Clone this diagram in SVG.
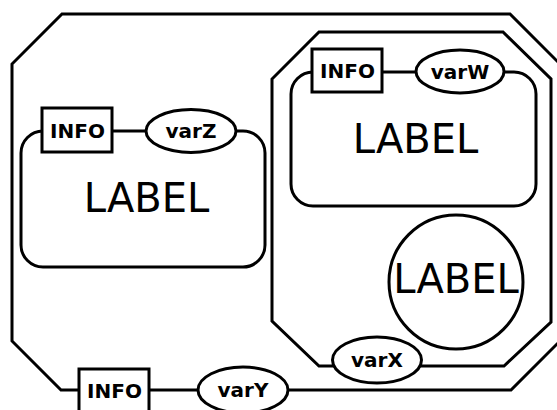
<svg xmlns="http://www.w3.org/2000/svg" width="557" height="410" viewBox="0 0 557 410">
<style>
.s{fill:#fff;stroke:#000;stroke-width:3}
.big{font-family:"DejaVu Sans",sans-serif;font-size:40px;text-anchor:middle;fill:#000}
.sm{font-family:"DejaVu Sans",sans-serif;font-size:20px;font-weight:bold;text-anchor:middle;fill:#000}
</style>
<rect width="557" height="410" fill="#fff"/>
<g id="outer">
<polygon class="s" points="62,14 510,14 560,64 560,341 511,390 61,390 12,341 12,64"/>
</g>
<g id="compZ">
<rect class="s" x="21" y="131" width="244" height="136" rx="22"/>
<text class="big" x="146.5" y="212">LABEL</text>
</g>
<g id="infoZ">
<rect class="s" x="42" y="108" width="70" height="44"/>
<text class="sm" x="77.5" y="137.5">INFO</text>
</g>
<g id="varZ">
<ellipse class="s" cx="191" cy="131" rx="45" ry="21.5"/>
<text class="sm" x="191" y="138">varZ</text>
</g>
<g id="inner">
<polygon class="s" points="319,32 503,32 551,79 551,322 504,366 319,366 272,321 272,79"/>
</g>
<g id="compW">
<rect class="s" x="291" y="72" width="245" height="134" rx="22"/>
<text class="big" x="415.5" y="153">LABEL</text>
</g>
<g id="infoW">
<rect class="s" x="312" y="49" width="70" height="43"/>
<text class="sm" x="347.5" y="77.5">INFO</text>
</g>
<g id="varW">
<ellipse class="s" cx="460" cy="71.5" rx="44" ry="21.5"/>
<text class="sm" x="460" y="78.5">varW</text>
</g>
<g id="circle">
<circle class="s" cx="456" cy="282" r="67"/>
<text class="big" x="456" y="293">LABEL</text>
</g>
<g id="varX">
<ellipse class="s" cx="377" cy="360" rx="44.5" ry="23"/>
<text class="sm" x="377" y="367">varX</text>
</g>
<g id="infoY">
<rect class="s" x="79" y="369" width="70" height="43"/>
<text class="sm" x="114.5" y="397.5">INFO</text>
</g>
<g id="varY">
<ellipse class="s" cx="243" cy="390" rx="45" ry="23"/>
<text class="sm" x="243" y="397">varY</text>
</g>
</svg>
